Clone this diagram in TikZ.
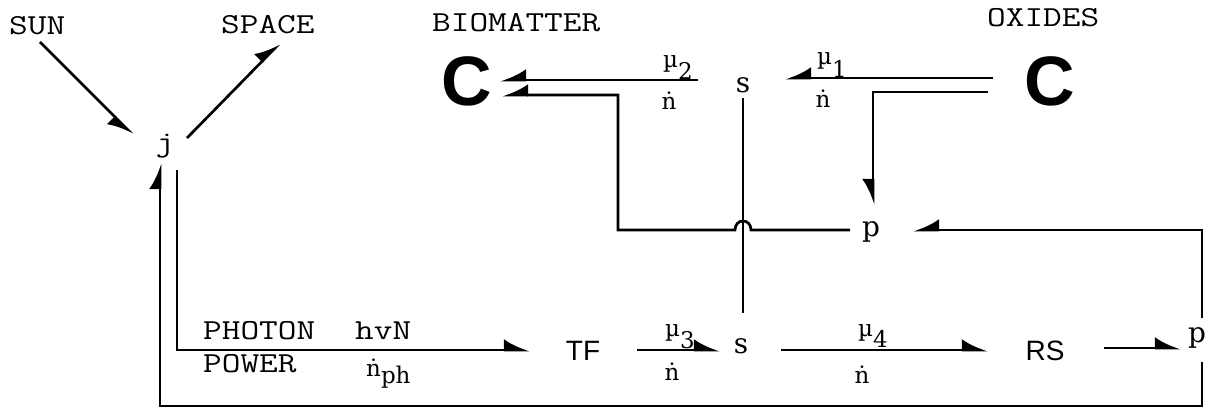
\documentclass[tikz,border=0pt]{standalone}
\usepackage{fontspec}
\setmainfont{DejaVu Serif}
\setsansfont{Liberation Sans}
\setmonofont[FakeStretch=1.25]{Latin Modern Mono}
\usetikzlibrary{arrows.meta}
\begin{document}
\begin{tikzpicture}[x=1pt,y=-1pt,
  mono/.style={font=\fontsize{29}{29}\selectfont\ttfamily, inner sep=0pt},
  ser/.style={font=\fontsize{28}{28}\selectfont, inner sep=0pt},
  sml/.style={font=\fontsize{23}{23}\selectfont, inner sep=0pt},
  sanslbl/.style={font=\fontsize{28}{28}\selectfont\sffamily, inner sep=0pt},
  bigc/.style={font=\fontsize{70}{70}\selectfont\sffamily\bfseries, inner sep=0pt},
  flow/.style={line width=2.7pt, line join=miter},
  arr/.style={flow, -{Latex[harpoon,length=22pt,width=22pt]}},
  arrsw/.style={flow, -{Latex[harpoon,swap,length=22pt,width=22pt]}},
]
\useasboundingbox (0,0) rectangle (1215,411);
% labels
\node[mono,anchor=base west] (sun) at (9,35) {SUN};
\node[mono,anchor=base west] (space) at (221,34) {SPACE};
\node[mono,anchor=base west] (bio) at (432,32) {BIOMATTER};
\node[mono,anchor=base west] (ox) at (987,27) {OXIDES};
\node[mono,anchor=base] (j) at (165,152) {j};
\node[bigc,anchor=base] (cl) at (467,106) {C};
\node[bigc,anchor=base] (cr) at (1050,106) {C};
\node[ser,anchor=base] (st) at (743,93) {s};
\node[ser,anchor=base] (pm) at (871,237) {p};
\node[ser,anchor=base] (sb) at (741,353) {s};
\node[ser,anchor=base] (pr) at (1197,343) {p};
\node[sanslbl,anchor=base] (tf) at (583,361) {TF};
\node[sanslbl,anchor=base] (rs) at (1045,361) {RS};
\node[mono,anchor=base west] (photon) at (203,340) {PHOTON};
\node[mono,anchor=base west] (power) at (203,373) {POWER};
\node[mono,anchor=base west] (hvn) at (355,340) {hvN};
\node[sml,anchor=base west] (nph) at (366,377) {\.{n}\raisebox{-7pt}{ph}};
\node[sml,anchor=base west] (mu2) at (663,68) {µ\raisebox{-12pt}{2}};
\node[sml,anchor=base west] (mu1) at (817,65) {µ\raisebox{-13pt}{1}};
\node[sml,anchor=base west] (mu3) at (665,337) {µ\raisebox{-12pt}{3}};
\node[sml,anchor=base west] (mu4) at (858,337) {µ\raisebox{-11pt}{4}};
\node[sml,anchor=base] (n2) at (669,110) {\.{n}};
\node[sml,anchor=base] (n1) at (823,108) {\.{n}};
\node[sml,anchor=base] (n3) at (672,381) {\.{n}};
\node[sml,anchor=base] (n4) at (862,383) {\.{n}};
% connector end points
\coordinate (sunA) at (40,42);   \coordinate (jIn) at (133,135);
\coordinate (jOut) at (187,138); \coordinate (spA) at (280,43);
\coordinate (mu2R) at (698,80);  \coordinate (clA) at (500,80);
\coordinate (pmL) at (850,230);  \coordinate (hopR) at (751,230);
\coordinate (hopL) at (735,230); \coordinate (k1) at (618,230);
\coordinate (k2) at (618,95);    \coordinate (clB) at (502,95);
\coordinate (crA) at (993,78);   \coordinate (mu1L) at (785,78);
\coordinate (crB) at (988,92);   \coordinate (k3) at (873,92);
\coordinate (pmT) at (873,205);
\coordinate (stB) at (743,98);   \coordinate (sbT) at (743,313);
\coordinate (prT) at (1202,318); \coordinate (k4) at (1202,230);
\coordinate (pmR) at (913,230);
\coordinate (jB) at (177,170);   \coordinate (k5) at (177,350);
\coordinate (tfL) at (530,350);
\coordinate (tfR) at (637,350);  \coordinate (sbL) at (720,350);
\coordinate (sbR) at (781,350);  \coordinate (rsL) at (988,350);
\coordinate (rsR) at (1104,348); \coordinate (prL) at (1181,348);
\coordinate (prB) at (1202,362); \coordinate (k6) at (1202,406);
\coordinate (k7) at (160,406);   \coordinate (jBl) at (160,163);
% connectors
\draw[arrsw] (sunA) -- (jIn);
\draw[arr] (jOut) -- (spA);
\draw[arrsw] (mu2R) -- (clA);
\draw[arrsw] (pmL) -- (hopR) .. controls (751,218) and (735,218) .. (hopL) -- (k1) -- (k2) -- (clB);
\draw[arrsw] (crA) -- (mu1L);
\draw[arrsw] (crB) -- (k3) -- (pmT);
\draw[flow] (stB) -- (sbT);
\draw[arrsw] (prT) -- (k4) -- (pmR);
\draw[arr] (jB) -- (k5) -- (tfL);
\draw[arr] (tfR) -- (sbL);
\draw[arr] (sbR) -- (rsL);
\draw[arr] (rsR) -- (prL);
\draw[arr] (prB) -- (k6) -- (k7) -- (jBl);
\end{tikzpicture}
\end{document}
